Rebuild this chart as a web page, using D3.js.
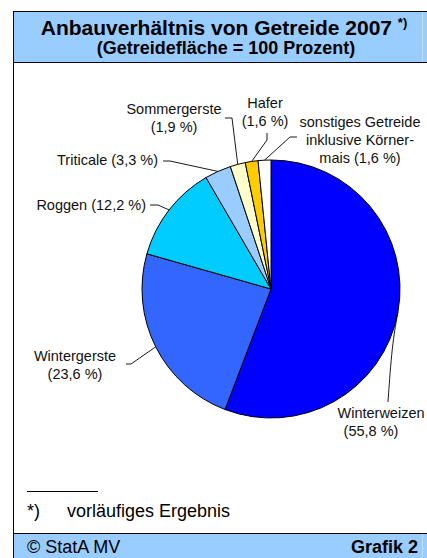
<!DOCTYPE html>
<html>
<head>
<meta charset="utf-8">
<script src="https://cdn.jsdelivr.net/npm/d3@7"></script>
<style>
  body { margin: 0; background: #fff; }
  svg { display: block; font-family: "Liberation Sans", Arial, sans-serif; }
</style>
</head>
<body>
<script>
// data
var categories = ["Winterweizen", "Wintergerste", "Roggen", "Triticale", "Sommergerste", "Hafer", "sonstiges Getreide inklusive Körnermais"];
var values = [55.8, 23.6, 12.2, 3.3, 1.9, 1.6, 1.6];
var colors = ["#0000ff", "#3366ff", "#00ccff", "#99ccff", "#ffffcc", "#ffcc00", "#ffffff"];
var labelLines = [
  ["Winterweizen", "(55,8 %)"],
  ["Wintergerste", "(23,6 %)"],
  ["Roggen (12,2 %)"],
  ["Triticale (3,3 %)"],
  ["Sommergerste", "(1,9 %)"],
  ["Hafer", "(1,6 %)"],
  ["sonstiges Getreide", "inklusive Körner-", "mais (1,6 %)"]
];

var width = 427,
    height = 558,
    radius = 129,
    cx = 271, cy = 289;

// label placement (layout only): line x positions, first baseline, anchor, leader elbow
var labelPos = [
  { xs: [381, 371], y: 418, anchor: "middle", elbow: [[392, 345], [388, 402]] },
  { xs: [75, 75], y: 361, anchor: "middle", elbow: [[131, 364], [126, 364]] },
  { xs: [146], y: 210, anchor: "end", elbow: [[158, 205], [150, 205]] },
  { xs: [158], y: 165, anchor: "end", elbow: [[170, 161], [163, 161]] },
  { xs: [174, 174], y: 114, anchor: "middle", elbow: [[232, 118], [225, 118]] },
  { xs: [265, 265], y: 108, anchor: "middle", elbow: [[267, 140], [267, 133]] },
  { xs: [360, 360, 360], y: 127, anchor: "middle", elbow: [[290, 137], [297, 137]] }
];

var svg = d3.select("body").append("svg")
    .attr("width", width)
    .attr("height", height);

// frame
var blue = "#99ccff";
svg.append("rect").attr("x", 13).attr("y", 11).attr("width", width - 13).attr("height", 51).attr("fill", blue);
svg.append("rect").attr("x", 13).attr("y", 533).attr("width", width - 13).attr("height", 25).attr("fill", blue);
svg.append("line").attr("x1", 13).attr("x2", width).attr("y1", 11.5).attr("y2", 11.5).attr("stroke", "#000");
svg.append("line").attr("x1", 13).attr("x2", width).attr("y1", 62.5).attr("y2", 62.5).attr("stroke", "#000");
svg.append("line").attr("x1", 13).attr("x2", width).attr("y1", 533.5).attr("y2", 533.5).attr("stroke", "#000");
svg.append("line").attr("x1", 13.5).attr("x2", 13.5).attr("y1", 11).attr("y2", height).attr("stroke", "#000");
svg.append("line").attr("x1", 422.5).attr("x2", 422.5).attr("y1", 12).attr("y2", 62).attr("stroke", "#c4e0ff");
svg.append("line").attr("x1", 422.5).attr("x2", 422.5).attr("y1", 534).attr("y2", height).attr("stroke", "#c4e0ff");

// titles
var title = svg.append("text")
    .attr("x", 224).attr("y", 35)
    .attr("text-anchor", "middle")
    .style("font-size", "21px").style("font-weight", "bold");
title.append("tspan").text("Anbauverhältnis von Getreide 2007 ");
title.append("tspan").attr("dy", -8).style("font-size", "13px").text("*)");

svg.append("text")
    .attr("x", 226).attr("y", 54)
    .attr("text-anchor", "middle")
    .style("font-size", "18px").style("font-weight", "bold")
    .text("(Getreidefläche = 100 Prozent)");

// pie
var pie = d3.pie()
    .sort(null)
    .value(function(d) { return d; });

var arc = d3.arc()
    .outerRadius(radius)
    .innerRadius(0);

var edgeArc = d3.arc()
    .outerRadius(radius)
    .innerRadius(radius);

var arcs = pie(values);

var g = svg.append("g")
    .attr("transform", "translate(" + cx + "," + cy + ")");

g.selectAll("path.slice")
    .data(arcs)
  .enter().append("path")
    .attr("class", "slice")
    .attr("d", arc)
    .attr("fill", function(d, i) { return colors[i]; })
    .attr("stroke", "#000")
    .attr("stroke-width", 1);

// leader lines
svg.selectAll("path.leader")
    .data(arcs)
  .enter().append("path")
    .attr("class", "leader")
    .attr("fill", "none")
    .attr("stroke", "#000")
    .attr("stroke-width", 0.9)
    .attr("d", function(d, i) {
      var c = edgeArc.centroid(d);
      var pts = [[cx + c[0], cy + c[1]]].concat(labelPos[i].elbow);
      return (i === 0 ? d3.line().curve(d3.curveBasis) : d3.line())(pts);
    });

// labels
var labels = svg.selectAll("text.lbl")
    .data(arcs)
  .enter().append("text")
    .attr("class", "lbl")
    .attr("text-anchor", function(d, i) { return labelPos[i].anchor; })
    .style("font-size", "14.5px")
    .attr("fill", "#111");

labels.each(function(d, i) {
  var t = d3.select(this);
  labelLines[i].forEach(function(line, j) {
    t.append("tspan")
      .attr("x", labelPos[i].xs[j])
      .attr("y", labelPos[i].y + j * 18)
      .text(line);
  });
});

// footnote
svg.append("line").attr("x1", 27).attr("x2", 98).attr("y1", 491.5).attr("y2", 491.5).attr("stroke", "#000");
svg.append("text").attr("x", 27).attr("y", 517).style("font-size", "18px").text("*)");
svg.append("text").attr("x", 67).attr("y", 517).style("font-size", "18px").text("vorläufiges Ergebnis");

// footer
svg.append("text").attr("x", 27).attr("y", 553).style("font-size", "18px").text("© StatA MV");
svg.append("text").attr("x", 418).attr("y", 553).attr("text-anchor", "end")
    .style("font-size", "18px").style("font-weight", "bold").text("Grafik 2");
</script>
</body>
</html>
